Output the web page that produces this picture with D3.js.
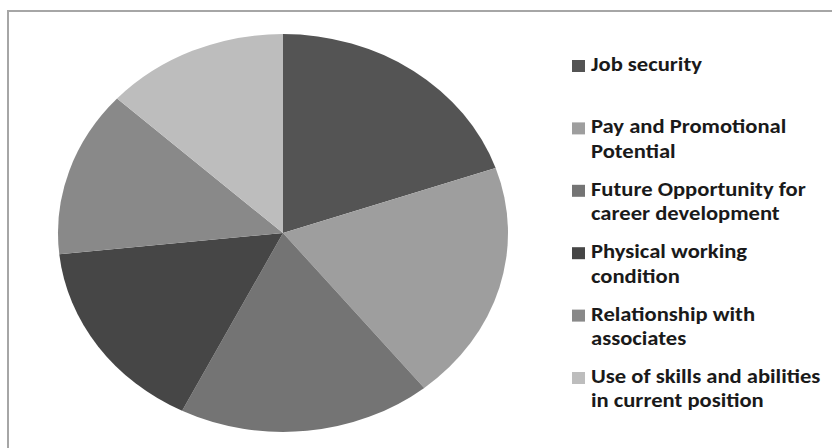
<!DOCTYPE html>
<html>
  <head>
    <meta charset="UTF-8">
    <script src="https://cdn.jsdelivr.net/npm/d3@7"></script>
    <style>
      body { margin: 0; background: #fff; }
      svg text { font-family: Calibri, "Liberation Sans", Arial, sans-serif; font-weight: bold; fill: #1a1a1a; }
    </style>
  </head>
  <body>
    <svg id="chart" width="832" height="448"></svg>
  <script>
      // data
      var categories = ["Job security", "Pay and Promotional Potential", "Future Opportunity for career development",
                        "Physical working condition", "Relationship with associates", "Use of skills and abilities in current position"];
      var legendLines = [["Job security"], ["Pay and Promotional", "Potential"], ["Future Opportunity for", "career development"],
                         ["Physical working", "condition"], ["Relationship with", "associates"], ["Use of skills and abilities", "in current position"]];
      var values = [19.7, 19.5, 18.2, 15.9, 13.5, 13.2];
      var colors = ["#545454", "#9e9e9e", "#747474", "#464646", "#898989", "#bdbdbd"];

      var svg = d3.select("#chart");

      // frame (only top and left edges show in the picture)
      svg.append("path")
         .attr("d", "M8,448 L8,11 L832,11")
         .attr("fill", "none")
         .attr("stroke", "#a6a6a6")
         .attr("stroke-width", 2);

      var cx = 283, cy = 233, rx = 225, ry = 199;
      var stretch = rx / ry;   // the original picture is stretched sideways
      var pie = d3.pie().sort(null);
      var arc = d3.arc().innerRadius(0).outerRadius(ry);

      var g = svg.append("g")
         .attr("transform", "translate(" + cx + "," + cy + ") scale(" + stretch + ",1)");
      g.selectAll("path.slice")
         .data(pie(values))
         .enter().append("path")
         .attr("class", "slice")
         .attr("d", arc)
         .attr("fill", function(d, i){ return colors[i]; });

      // legend
      var legendY = d3.scaleLinear().domain([0, categories.length - 1]).range([71, 383]);
      var item = svg.append("g").selectAll("g.item")
         .data(categories)
         .enter().append("g")
         .attr("class", "item")
         .attr("transform", function(d, i){ return "translate(572," + legendY(i) + ")"; });
      item.append("rect")
         .attr("x", 0).attr("y", -11)
         .attr("width", 13).attr("height", 12)
         .attr("fill", function(d, i){ return colors[i]; });
      item.each(function(d, i){
          var t = d3.select(this).append("text")
             .attr("transform", "translate(19,0) scale(" + stretch + ",1)")
             .attr("font-size", 20);
          legendLines[i].forEach(function(line, j){
              t.append("tspan")
               .attr("x", 0)
               .attr("y", j * 24.5)
               .text(line);
          });
      });
  </script>
  </body>
</html>
